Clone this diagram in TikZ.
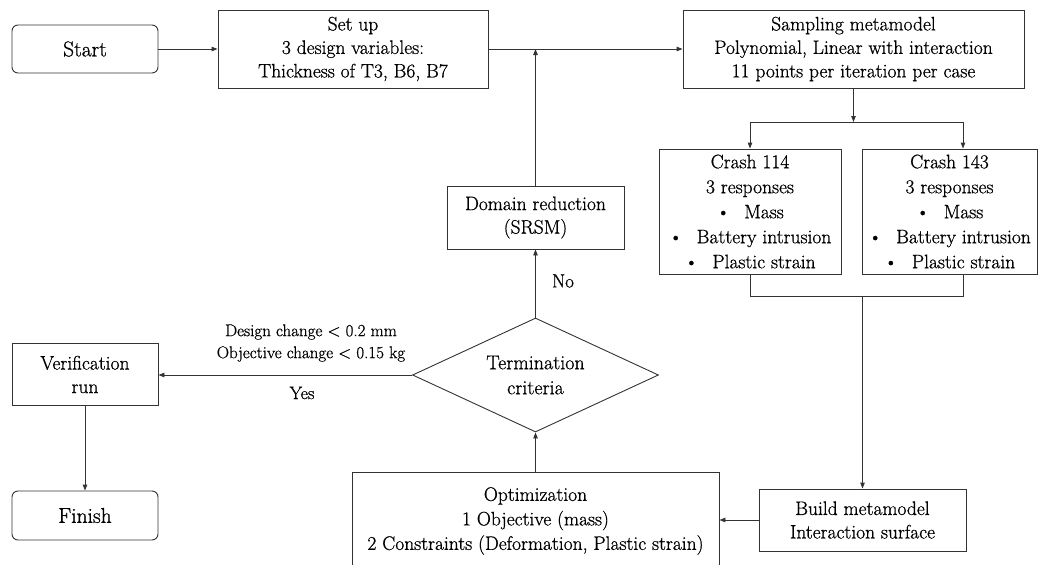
\documentclass[tikz,border=0pt]{standalone}
\usepackage{fontspec}
\setmainfont{Latin Modern Roman}[FakeBold=0.8]
\usetikzlibrary{shapes.geometric,arrows.meta}
\begin{document}
\begin{tikzpicture}[x=1pt,y=-1pt,
  line/.style={draw=black!80, line width=0.9pt},
  arr/.style={line, -{Triangle[length=6pt,width=4.5pt]}},
  box/.style={draw=black!80, line width=0.9pt, rectangle, align=center, inner sep=0pt,
    font=\rmfamily\fontsize{19.5}{23.5}\selectfont},
  termbox/.style={box, rounded corners=6pt, font=\rmfamily\fontsize{21.5}{26}\selectfont},
  crashbox/.style={box, font=\rmfamily\fontsize{19.5}{25}\selectfont},
  decision/.style={draw=black!80, line width=0.9pt, diamond, aspect=2.16, inner sep=0pt,
    align=center, minimum width=246, minimum height=114, font=\rmfamily\fontsize{20}{25}\selectfont},
  lbl/.style={align=center, inner sep=0pt}
]
\useasboundingbox (0,0) rectangle (1039,565);
\clip (0,0) rectangle (1039,565);

\node[termbox, minimum width=146, minimum height=48] (start) at (85,49) {Start};
\node[box, minimum width=270, minimum height=78] (setup) at (353,49)
  {Set up\\3 design variables:\\Thickness of T3, B6, B7};
\node[box, minimum width=341, minimum height=78] (sampling) at (853.5,49)
  {Sampling metamodel\\Polynomial, Linear with interaction\\11 points per iteration per case};
\node[crashbox, minimum width=182, minimum height=125] (crash1) at (750,211.5)
  {Crash 114\\3 responses\\\textbullet\hspace{14pt}Mass\\\textbullet\hspace{14pt}Battery intrusion\\\textbullet\hspace{14pt}Plastic strain};
\node[crashbox, minimum width=175, minimum height=125] (crash2) at (949.5,211.5)
  {Crash 143\\3 responses\\\textbullet\hspace{14pt}Mass\\\textbullet\hspace{14pt}Battery intrusion\\\textbullet\hspace{14pt}Plastic strain};
\node[box, minimum width=177, minimum height=63] (domain) at (535.5,217.5)
  {Domain reduction\\(SRSM)};
\node[decision] (diam) at (535.5,375) {Termination\\criteria};
\node[box, minimum width=146, minimum height=62] (verif) at (85,374.5) {Verification\\run};
\node[termbox, minimum width=146, minimum height=49] (finish) at (85,515.5) {Finish};
\node[box, minimum width=367, minimum height=128] (opt) at (535.5,536) {};
\node[lbl, font=\rmfamily\fontsize{19.5}{24.5}\selectfont] (optlabel) at (535.5,521)
  {Optimization\\1 Objective (mass)\\2 Constraints (Deformation, Plastic strain)};
\node[box, minimum width=207, minimum height=62] (build) at (862.5,520)
  {Build metamodel\\Interaction surface};

\node[lbl, font=\rmfamily\fontsize{19}{24}\selectfont] (no) at (563,281) {No};
\node[lbl, font=\rmfamily\fontsize{18}{23}\selectfont] (yes) at (302,393) {Yes};
\node[lbl, font=\rmfamily\fontsize{17}{22}\selectfont] (crit) at (311,343)
  {Design change < 0.2 mm\\Objective change < 0.15 kg};

\coordinate (fork) at (853.5,122);
\coordinate (forkL) at (750,122);
\coordinate (forkR) at (963,122);
\coordinate (joinL) at (750,296);
\coordinate (joinR) at (963,296);
\coordinate (joinM) at (862.5,296);

\draw[arr] (start) -- (setup);
\draw[arr] (setup) -- (sampling);
\draw[arr] (domain.north) -- (domain.north |- setup.east);
\draw[arr] (diam.north) -- (domain.south);
\draw[arr] (sampling.south) -- (fork);
\draw[line] (forkL) -- (forkR);
\draw[arr] (forkL) -- (crash1.north);
\draw[arr] (forkR) -- (forkR |- crash2.north);
\draw[line] (crash1.south) -- (joinL) -- (joinR) -- (joinR |- crash2.south);
\draw[arr] (joinM) -- (build.north);
\draw[arr] (build.west) -- (opt.east |- build.west);
\draw[arr] (opt.north) -- (diam.south);
\draw[arr] (diam.west) -- (verif.east |- diam.west);
\draw[arr] (verif) -- (finish);
\end{tikzpicture}
\end{document}
